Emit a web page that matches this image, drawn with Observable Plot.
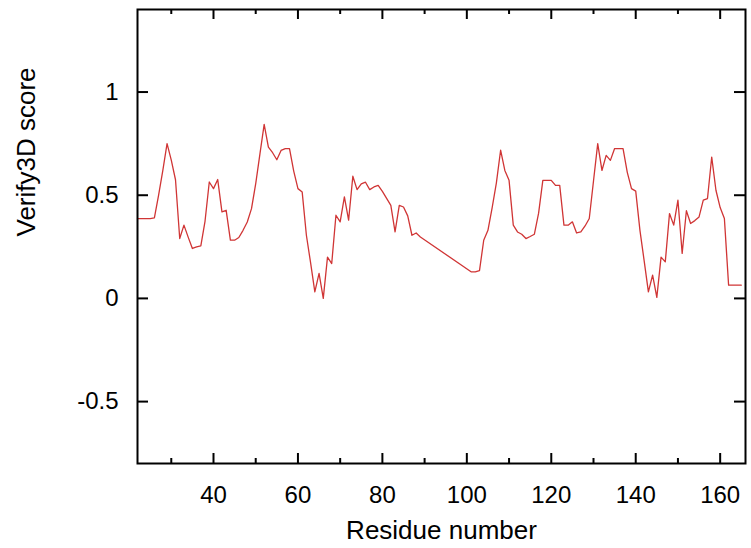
<!DOCTYPE html>
<html>
<head>
<meta charset="utf-8">
<script src="https://cdn.jsdelivr.net/npm/d3@7"></script>
<script src="https://cdn.jsdelivr.net/npm/@observablehq/plot@0.6"></script>
<style>
  html, body { margin: 0; padding: 0; background: white; }
</style>
</head>
<body>
<div id="chart"></div>
<script>
const residues = [22,23,24,25,26,27,28,29,30,31,32,33,34,35,36,37,38,39,40,41,42,43,44,45,46,47,48,49,50,51,52,53,54,55,56,57,58,59,60,61,62,63,64,65,66,67,68,69,70,71,72,73,74,75,76,77,78,79,80,81,82,83,84,85,86,87,88,89,101,102,103,104,105,106,107,108,109,110,111,112,113,114,115,116,117,118,119,120,121,122,123,124,125,126,127,128,129,130,131,132,133,134,135,136,137,138,139,140,141,142,143,144,145,146,147,148,149,150,151,152,153,154,155,156,157,158,159,160,161,162,163,164,165];
const scores = [0.387,0.387,0.387,0.387,0.39,0.50,0.62,0.75,0.67,0.575,0.29,0.355,0.297,0.242,0.25,0.255,0.375,0.564,0.532,0.576,0.419,0.427,0.282,0.282,0.295,0.33,0.37,0.435,0.556,0.70,0.843,0.733,0.706,0.672,0.717,0.726,0.726,0.617,0.532,0.516,0.306,0.172,0.032,0.121,0.0,0.20,0.169,0.403,0.371,0.492,0.379,0.592,0.527,0.555,0.563,0.527,0.54,0.548,0.519,0.485,0.451,0.322,0.451,0.443,0.40,0.306,0.317,0.298,0.129,0.129,0.135,0.282,0.33,0.44,0.56,0.718,0.62,0.572,0.355,0.322,0.311,0.29,0.30,0.311,0.413,0.572,0.572,0.572,0.548,0.548,0.355,0.355,0.371,0.317,0.322,0.351,0.387,0.569,0.75,0.62,0.693,0.669,0.726,0.726,0.726,0.611,0.532,0.52,0.33,0.182,0.032,0.113,0.005,0.20,0.177,0.411,0.355,0.476,0.218,0.425,0.363,0.377,0.395,0.476,0.484,0.685,0.524,0.44,0.387,0.064,0.064,0.064,0.064];

const xMajorTicks = [40, 60, 80, 100, 120, 140, 160];
const xMinorTicks = [30, 50, 70, 90, 110, 130, 150];
const yTicks = [-0.5, 0, 0.5, 1];
const xLabel = "Residue number";
const yLabel = "Verify3D score";

const data = residues.map((r, i) => ({residue: r, score: scores[i]}));

const W = 751, H = 548;
const mL = 137, mR = 6, mT = 9, mB = 85;
const frameW = W - mL - mR, frameH = H - mT - mB;
const majorLen = 10, minorLen = 5, yTickLen = 11;
const font = "'Liberation Sans', Arial, Helvetica, sans-serif";

const chart = Plot.plot({
  width: W,
  height: H,
  marginLeft: mL,
  marginRight: mR,
  marginTop: mT,
  marginBottom: mB,
  style: {fontFamily: font, fontSize: "24px", background: "white", color: "black"},
  x: {domain: [22, 166]},
  y: {domain: [-0.8, 1.4]},
  marks: [
    Plot.line(data, {x: "residue", y: "score", stroke: "#d03535", strokeWidth: 1.3}),
    // inward ticks bottom/top
    Plot.tickX(xMajorTicks, {x: d => d, insetTop: frameH - majorLen, stroke: "black", strokeWidth: 2}),
    Plot.tickX(xMajorTicks, {x: d => d, insetBottom: frameH - majorLen, stroke: "black", strokeWidth: 2}),
    Plot.tickX(xMinorTicks, {x: d => d, insetTop: frameH - minorLen, stroke: "black", strokeWidth: 2}),
    Plot.tickX(xMinorTicks, {x: d => d, insetBottom: frameH - minorLen, stroke: "black", strokeWidth: 2}),
    // inward ticks left/right
    Plot.tickY(yTicks, {y: d => d, insetRight: frameW - yTickLen, stroke: "black", strokeWidth: 2}),
    Plot.tickY(yTicks, {y: d => d, insetLeft: frameW - yTickLen, stroke: "black", strokeWidth: 2}),
    Plot.frame({stroke: "black", strokeWidth: 2}),
    Plot.axisX(xMajorTicks, {anchor: "bottom", tickSize: 0, tickPadding: 22, fontSize: 24, label: null, tickFormat: d => String(d)}),
    Plot.axisY(yTicks, {anchor: "left", tickSize: 0, tickPadding: 19, fontSize: 24, label: null, tickFormat: d => String(d)}),
    Plot.text([xLabel], {text: d => d, frameAnchor: "bottom", dy: 67, fontSize: 26, lineAnchor: "middle"}),
    Plot.text([yLabel], {text: d => d, frameAnchor: "left", dx: -111, rotate: -90, fontSize: 26, lineAnchor: "middle"})
  ]
});

document.getElementById("chart").appendChild(chart);
</script>
</body>
</html>
